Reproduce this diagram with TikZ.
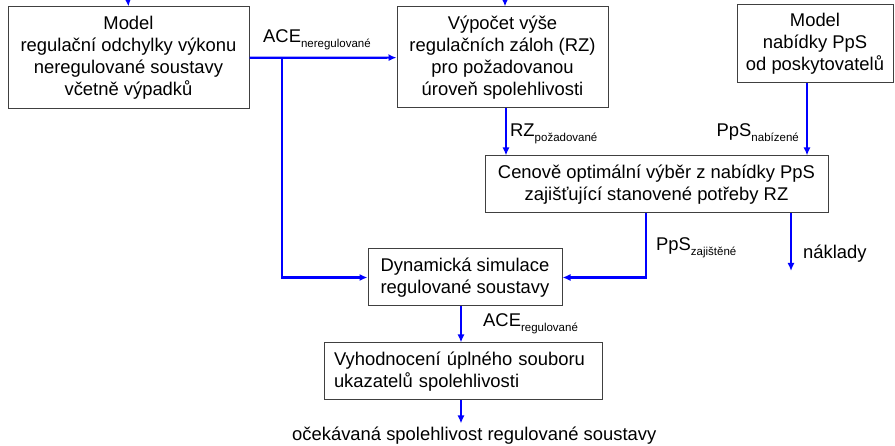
\documentclass[tikz,border=0pt]{standalone}
\usepackage{fontspec}
\setmainfont{Liberation Sans}
\usepackage{tikz}
\usetikzlibrary{calc, arrows.meta}

% subscript label
\newcommand{\idx}[1]{\raisebox{-0.45ex}{\fontsize{11.5}{11.5}\selectfont #1}}

\tikzset{
    block/.style={draw=black!75, line width=1pt, inner sep=0pt, align=center},
    flow/.style={draw=blue, line width=2.2pt, -{Latex[length=8pt, width=7pt]}},
    lbl/.style={inner sep=0pt}
}

\begin{document}
\begin{tikzpicture}[x=1pt, y=-1pt, font=\fontsize{18.4}{22}\selectfont]
    \useasboundingbox (0,0) rectangle (895,446);

    % Coordinates
    \coordinate (in1) at (128,0);
    \coordinate (in2) at (505,0);
    \coordinate (branch) at (282,58);
    \coordinate (cost) at (791,271);

    % Blocks
    \node[block, minimum width=241, minimum height=102] (model) at (128.5,58) {Model\\regulační odchylky výkonu\\neregulované soustavy\\včetně výpadků};
    \node[block, minimum width=211, minimum height=101] (calc) at (502.5,57.5) {Výpočet výše\\regulačních záloh (RZ)\\pro požadovanou\\úroveň spolehlivosti};
    \node[block, minimum width=156, minimum height=78] (offer) at (815,44) {Model\\nabídky PpS\\od poskytovatelů};
    \node[block, minimum width=343, minimum height=57] (select) at (656.5,184.5) {Cenově optimální výběr z nabídky PpS\\zajišťující stanovené potřeby RZ};
    \node[block, minimum width=194, minimum height=57] (sim) at (465,277.5) {Dynamická simulace\\regulované soustavy};
    \node[block, minimum width=278, minimum height=57, align=left, text width=258] (eval) at (463,371.5) {Vyhodnocení úplného souboru\\ukazatelů spolehlivosti};

    % Text
    \node[lbl, anchor=base west] (ace1) at (263,43) {ACE\idx{neregulované}};
    \node[lbl, anchor=base west] (rz) at (510,137) {RZ\idx{požadované}};
    \node[lbl, anchor=base east] (pps1) at (799,137) {PpS\idx{nabízené}};
    \node[lbl, anchor=base west] (pps2) at (656,251) {PpS\idx{zajištěné}};
    \node[lbl, anchor=base west] (costs) at (803,259) {náklady};
    \node[lbl, anchor=base west] (ace2) at (483,327) {ACE\idx{regulované}};
    \node[lbl, anchor=base west] (result) at (292,440) {očekávaná spolehlivost regulované soustavy};

    % Lines
    \draw[flow] (in1) -- (model.north);
    \draw[flow] (in2) -- (in2 |- calc.north);
    \draw[flow] (model) -- (calc);
    \draw[flow] (branch) |- (sim.west);
    \draw[flow] ([xshift=3.5]calc.south) -- ([xshift=3.5]calc.south |- select.north);
    \draw[flow] ([xshift=-8]offer.south) -- ([xshift=-8]offer.south |- select.north);
    \draw[flow] ([xshift=-10.5]select.south) |- (sim.east);
    \draw[flow] (select.south -| cost) -- (cost);
    \draw[flow] ([xshift=-4]sim.south) -- ([xshift=-4]sim.south |- eval.north);
    \draw[flow] ([xshift=-2]eval.south) -- ++(0,23);
\end{tikzpicture}
\end{document}
